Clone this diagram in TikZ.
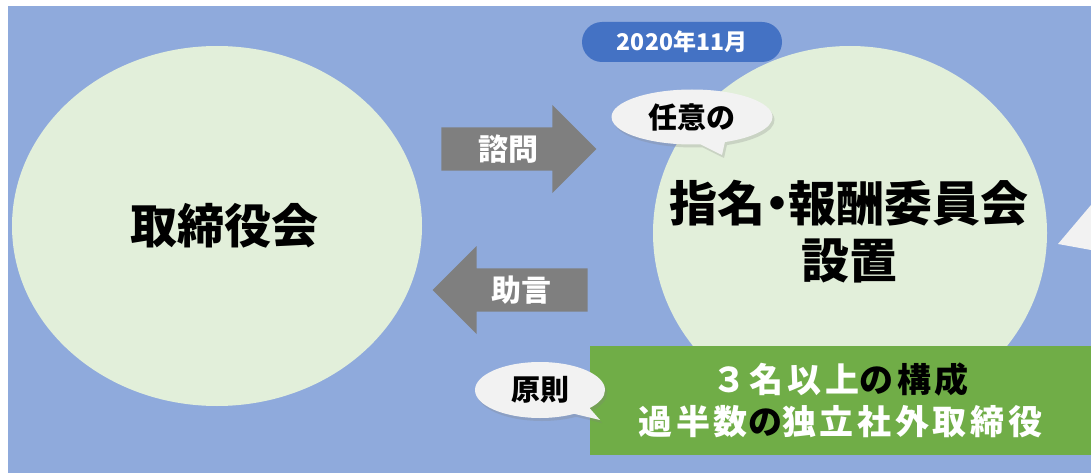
\documentclass[tikz,border=0pt]{standalone}
\usepackage{fontspec}
\setmainfont{Noto Sans CJK JP}
\usetikzlibrary{shapes.geometric,shapes.arrows,shapes.callouts,shadows}
\definecolor{bgblue}{HTML}{8FAADC}
\definecolor{circlegreen}{HTML}{E2EFDA}
\definecolor{pillblue}{HTML}{4472C4}
\definecolor{arrowgray}{HTML}{7F7F7F}
\definecolor{boxgreen}{HTML}{70AD47}
\definecolor{bubblegray}{HTML}{F2F2F2}

\begin{document}
\begin{tikzpicture}[x=1pt,y=-1pt]
					\tikzstyle{circ}=[ellipse,fill=circlegreen,inner sep=0pt]
					\tikzstyle{bigtext}=[font=\fontsize{47}{57}\selectfont\bfseries,align=center]
					\tikzstyle{blockarrow}=[single arrow,fill=arrowgray,text=white,font=\fontsize{30}{30}\selectfont\bfseries,single arrow head extend=22pt,minimum height=155pt,minimum width=88pt,inner sep=7pt]
					\tikzstyle{bubble}=[ellipse callout,fill=bubblegray,font=\fontsize{29}{30}\selectfont\bfseries,inner sep=0pt,callout pointer arc=18,drop shadow={shadow xshift=2pt,shadow yshift=-3pt,opacity=.25}]
					\useasboundingbox (0,0) rectangle (1091,473);
					\clip (0,0) rectangle (1091,473);
					\fill[bgblue] (8,6) rectangle (1091,473);
					\node[circ,minimum width=410pt,minimum height=360pt] (board) at (217,226) {};
					\node[bigtext] (boardtext) at (224,226) {取締役会};
					\node[circ,minimum width=394pt,minimum height=374pt] (committee) at (850,233) {};
					\node[bigtext,font=\fontsize{48}{57}\selectfont\bfseries] (committeetext) at (849,232) {指名\hspace{-.27em}・\hspace{-.27em}報酬委員会\\設置};
					\node[rectangle,rounded corners=20pt,fill=pillblue,text=white,minimum width=200pt,minimum height=40pt,font=\fontsize{23}{24}\selectfont\bfseries] (date) at (682,42) {2020年11月};
					\node[blockarrow] (consult) at (508,149) {諮問};
					\node[blockarrow,shape border rotate=180] (advise) at (521,290) {助言};
					\fill[bubblegray] (1058,244) -- (1091,205) -- (1091,250) -- cycle;
					\node[rectangle,fill=boxgreen,text=white,minimum width=501pt,minimum height=109pt,align=center,font=\fontsize{34}{42}\selectfont\bfseries\addfontfeature{LetterSpace=11}] (rules) at (840.5,400.5) {３名以上\textcolor{black}{の構成}\\過半数\textcolor{black}{の}独立社外取締役};
					\node[bubble,minimum width=161pt,minimum height=55pt,callout absolute pointer={(722,155)}] (optional) at (692,117) {任意の};
					\node[bubble,minimum width=130pt,minimum height=56pt,callout absolute pointer={(600,420)}] (principle) at (540,390) {原則};
					\end{tikzpicture}
\end{document}
